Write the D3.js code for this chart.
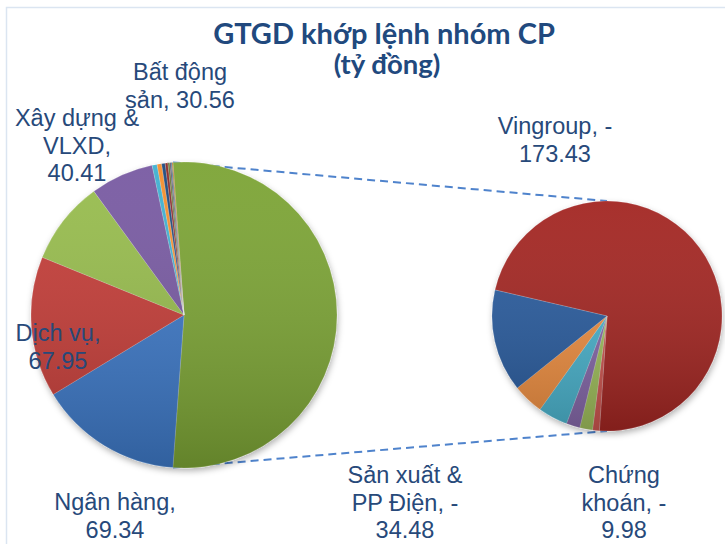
<!DOCTYPE html>
<html>
<head>
<meta charset="utf-8">
<script src="https://d3js.org/d3.v7.min.js"></script>
<style>
  body { margin: 0; background: #fff; }
  svg { display: block; }
  .lbl { font-family: "Liberation Sans", Arial, sans-serif; font-size: 23.5px; fill: #27497a; }
  .title { font-family: Lato, "Open Sans", sans-serif; font-weight: bold; fill: #21497e; }
</style>
</head>
<body>
<svg id="chart" width="725" height="544"></svg>
<script>
// left pie: "Khác" (sum of right pie) + named groups + small groups
var leftNames = ["Khác", "Ngân hàng", "Dịch vụ", "Xây dựng & VLXD", "Bất động sản", "n5", "n6", "n7", "n8", "n9", "n10", "n11", "n12"];
var leftValues = [0, 69.34, 67.95, 40.41, 30.56, 2.4, 2.2, 1.7, 1.3, 0.9, 0.6, 0.5, 0.4];
var leftColors = ["#7ca434", "#3c78c6", "#c43c38", "#97bc4e", "#785aa2", "#3fb0d0", "#f58f2e", "#1f497d", "#8a2a28", "#5f7530", "#4d3b62", "#276a7c", "#b65708"];

// right pie, clockwise from Vingroup
var rightNames = ["Vingroup", "r2", "r3", "r4", "Chứng khoán", "r6", "Sản xuất & PP Điện"];
var rightValues = [173.43, 2.3, 4.3, 4.6, 9.98, 10.4, 34.48];
var rightColors = ["#a32624", "#cc5450", "#9fbe5c", "#8568a9", "#4cb3cd", "#ee8f42", "#2a5c9e"];

leftValues[0] = d3.sum(rightValues);

var labels = [
  { lines: ["Bất động", "sản, 30.56"], x: 180, y: 80 },
  { lines: ["Xây dựng &", "VLXD,", "40.41"], x: 77, y: 126 },
  { lines: ["Dịch vụ,", "67.95"], x: 58, y: 341 },
  { lines: ["Ngân hàng,", "69.34"], x: 115, y: 510 },
  { lines: ["Vingroup, -", "173.43"], x: 555, y: 134 },
  { lines: ["Sản xuất &", "PP Điện, -", "34.48"], x: 405, y: 483 },
  { lines: ["Chứng", "khoán, -", "9.98"], x: 624, y: 483 }
];

var svg = d3.select("#chart");
var defs = svg.append("defs");

var shade = defs.append("linearGradient").attr("id", "shade")
  .attr("x1", 0).attr("y1", 0).attr("x2", 0).attr("y2", 1);
shade.append("stop").attr("offset", "0%").attr("stop-color", "#fff").attr("stop-opacity", 0.05);
shade.append("stop").attr("offset", "100%").attr("stop-color", "#000").attr("stop-opacity", 0.2);

var shadow = defs.append("filter").attr("id", "shadow")
  .attr("x", "-20%").attr("y", "-20%").attr("width", "140%").attr("height", "140%");
shadow.append("feDropShadow").attr("dx", 1).attr("dy", 3).attr("stdDeviation", 3)
  .attr("flood-color", "#000").attr("flood-opacity", 0.3);

// chart border
svg.append("rect").attr("x", 6.5).attr("y", 7.5).attr("width", 740).attr("height", 560)
  .attr("fill", "none").attr("stroke", "#dbe5f1").attr("stroke-width", 1.5);

svg.append("text").attr("class", "title").attr("x", 384).attr("y", 44)
  .attr("text-anchor", "middle").style("font-size", "29px").text("GTGD khớp lệnh nhóm CP");
svg.append("text").attr("class", "title").attr("x", 387).attr("y", 74)
  .attr("text-anchor", "middle").style("font-size", "27.5px").text("(tỷ đồng)");

var L = { cx: 184, cy: 315, r: 153 };
var R = { cx: 607, cy: 316, r: 115 };

var otherSpan = leftValues[0] / d3.sum(leftValues) * 2 * Math.PI;
var leftStart = Math.PI / 2 - otherSpan / 2;
var rightStart = -76.9 * Math.PI / 180;

var leftPie = d3.pie().sort(null).value(d => d)
  .startAngle(leftStart).endAngle(leftStart + 2 * Math.PI);
var rightPie = d3.pie().sort(null).value(d => d)
  .startAngle(rightStart).endAngle(rightStart + 2 * Math.PI);

var leftArc = d3.arc().innerRadius(0).outerRadius(L.r);
var rightArc = d3.arc().innerRadius(0).outerRadius(R.r);

// connector lines (behind the pies)
function edgePt(p, a) { return [p.cx + p.r * Math.sin(a), p.cy - p.r * Math.cos(a)]; }
var a0 = edgePt(L, leftStart), a1 = edgePt(L, leftStart + otherSpan);
var conn = [
  [a0, [R.cx, R.cy - R.r]],
  [a1, [R.cx, R.cy + R.r]]
];
svg.selectAll(".conn").data(conn).enter().append("line").attr("class", "conn")
  .attr("x1", d => d[0][0]).attr("y1", d => d[0][1])
  .attr("x2", d => d[1][0]).attr("y2", d => d[1][1])
  .attr("stroke", "#4f83cc").attr("stroke-width", 2).attr("stroke-dasharray", "8,5");

function drawPie(p, pie, arc, values, colors) {
  var g = svg.append("g").attr("transform", `translate(${p.cx},${p.cy})`);
  var body = g.append("g").attr("filter", "url(#shadow)");
  body.selectAll("path").data(pie(values)).enter().append("path")
    .attr("d", arc).attr("fill", (d, i) => colors[i])
    .attr("stroke", "rgba(255,255,255,0.35)").attr("stroke-width", 0.5);
  g.append("circle").attr("r", p.r).attr("fill", "url(#shade)").attr("pointer-events", "none");
}
drawPie(L, leftPie, leftArc, leftValues, leftColors);
drawPie(R, rightPie, rightArc, rightValues, rightColors);

var lh = 27.5;
labels.forEach(function (l) {
  var t = svg.append("text").attr("class", "lbl").attr("text-anchor", "middle");
  l.lines.forEach(function (s, i) {
    t.append("tspan").attr("x", l.x).attr("y", l.y + i * lh).text(s);
  });
});
</script>
</body>
</html>
